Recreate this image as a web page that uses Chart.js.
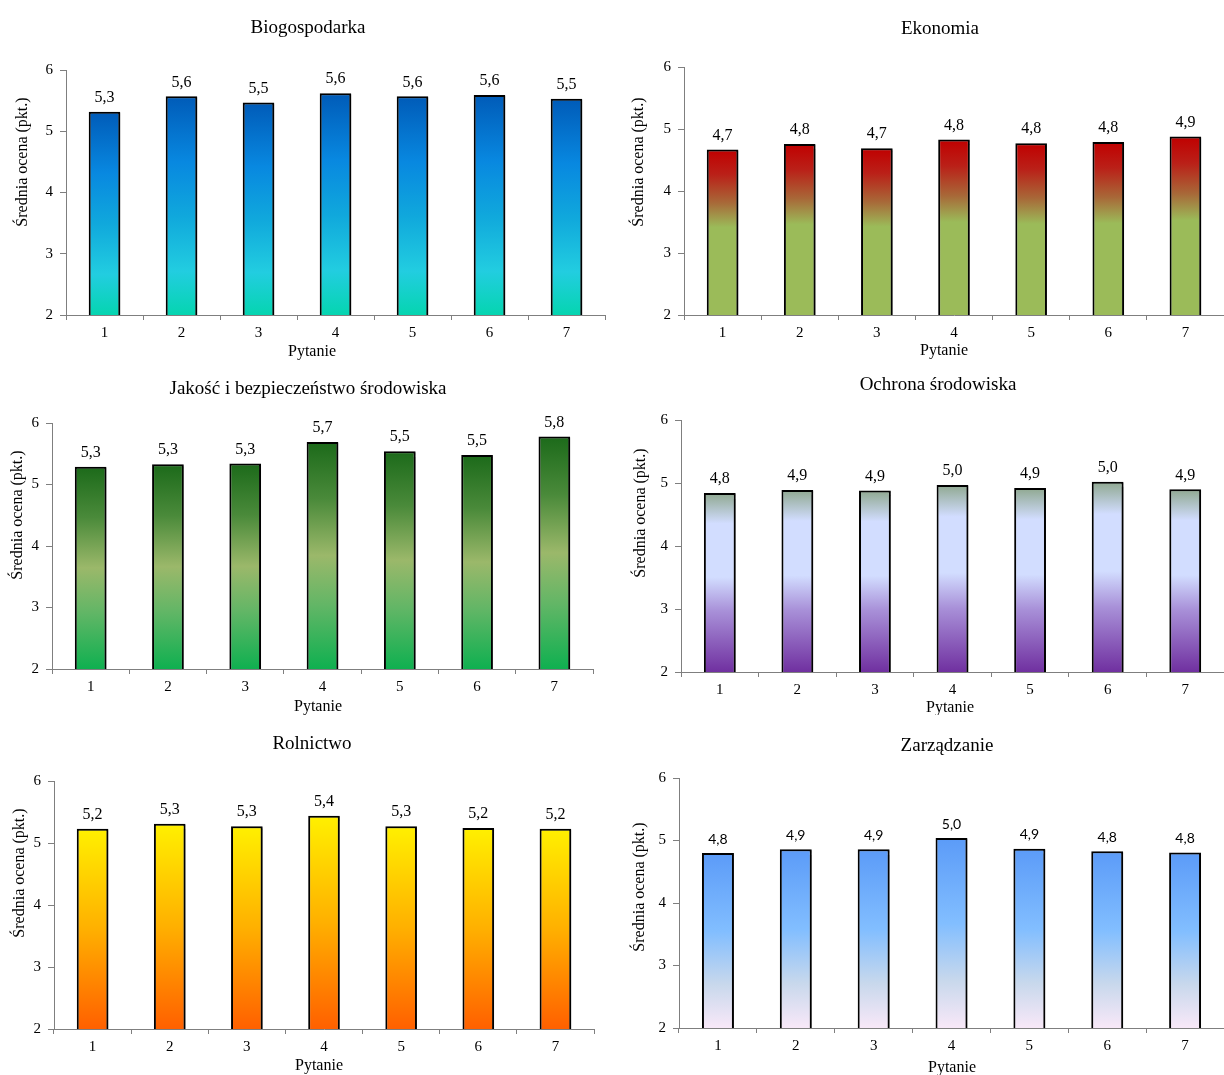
<!DOCTYPE html>
<html lang="pl">
<head>
<meta charset="utf-8">
<title>Średnia ocena wg dyscypliny</title>
<script src="https://cdn.jsdelivr.net/npm/chart.js@4.4.1/dist/chart.umd.min.js"></script>
<style>
    html, body { margin: 0; padding: 0; background: #ffffff; }
    #wrap { position: relative; width: 1224px; height: 1075px; overflow: hidden; }
    #wrap canvas { position: absolute; }
</style>
</head>
<body>
<div id="wrap">
    <canvas id="c1"></canvas>
    <canvas id="c2"></canvas>
    <canvas id="c3"></canvas>
    <canvas id="c4"></canvas>
    <canvas id="c5"></canvas>
    <canvas id="c6"></canvas>
</div>
<script>
// ---- dane ----
const pytania = ['1', '2', '3', '4', '5', '6', '7'];
const yTicks = [2, 3, 4, 5, 6];

const biogospodarka = [5.32, 5.57, 5.47, 5.62, 5.57, 5.59, 5.53];
const ekonomia      = [4.67, 4.76, 4.69, 4.83, 4.77, 4.79, 4.88];
const jakosc        = [5.29, 5.33, 5.34, 5.69, 5.54, 5.48, 5.78];
const ochrona       = [4.84, 4.89, 4.88, 4.97, 4.92, 5.02, 4.90];
const rolnictwo     = [5.23, 5.31, 5.27, 5.44, 5.27, 5.24, 5.23];
const zarzadzanie   = [4.80, 4.86, 4.86, 5.04, 4.87, 4.83, 4.81];

const tytuly = [
    'Biogospodarka', 'Ekonomia',
    'Jakość i bezpieczeństwo środowiska', 'Ochrona środowiska',
    'Rolnictwo', 'Zarządzanie'
];
const osY = 'Średnia ocena (pkt.)';
const osX = 'Pytanie';

// ---- wyglad ----
const SERIF = '"Liberation Serif", "Times New Roman", serif';
const SANS = 'Lato, "Liberation Sans", sans-serif';

// gradient slupka: [pozycja od gory, kolor]
const gradBio = [[0, '#005bb8'], [0.3, '#0888e0'], [0.55, '#10a8dc'], [0.8, '#22cde0'], [1, '#05d5b0']];
const gradEko = [[0, '#c00000'], [0.15, '#ba2018'], [0.32, '#a86838'], [0.47, '#9bbb59'], [1, '#9bbb59']];
const gradJak = [[0, '#1c6a1a'], [0.25, '#4a8a3a'], [0.5, '#9bb86a'], [0.72, '#62b666'], [1, '#0fb050']];
const gradOch = [[0, '#8fa890'], [0.17, '#d2ddff'], [0.47, '#d2ddff'], [0.66, '#a890d8'], [1, '#7030a0']];
const gradRol = [[0, '#fff000'], [0.5, '#ffb000'], [1, '#ff6000']];
const gradZar = [[0, '#5b9bf8'], [0.45, '#82beff'], [0.75, '#c8d8ec'], [1, '#f8e8f8']];

// polozenie paneli (px) - uklad strony
const panele = [
    { id: 'c1', dane: biogospodarka, grad: gradBio, left: 0,   top: 0,   w: 612, h: 360, axisX: 66, plotTop: 70, plotBottom: 315, right: 605, title: [308, 28], yTitle: [23, 162], xTitle: [312, 352], labelFont: SERIF, labelSize: 16 },
    { id: 'c2', dane: ekonomia,      grad: gradEko, left: 612, top: 0,   w: 612, h: 360, axisX: 72, plotTop: 67, plotBottom: 315, right: 612, title: [328, 29], yTitle: [27, 162], xTitle: [332, 351], labelFont: SERIF, labelSize: 16 },
    { id: 'c3', dane: jakosc,        grad: gradJak, left: 0,   top: 360, w: 612, h: 355, axisX: 52, plotTop: 63, plotBottom: 309, right: 593, title: [308, 29], yTitle: [18, 155], xTitle: [318, 347], labelFont: SERIF, labelSize: 16 },
    { id: 'c4', dane: ochrona,       grad: gradOch, left: 612, top: 360, w: 612, h: 355, axisX: 69, plotTop: 60, plotBottom: 312, right: 612, title: [326, 25], yTitle: [29, 153], xTitle: [338, 348], labelFont: SERIF, labelSize: 16 },
    { id: 'c5', dane: rolnictwo,     grad: gradRol, left: 0,   top: 715, w: 612, h: 360, axisX: 54, plotTop: 66, plotBottom: 314, right: 594, title: [312, 29], yTitle: [20, 158], xTitle: [319, 351], labelFont: SERIF, labelSize: 16 },
    { id: 'c6', dane: zarzadzanie,   grad: gradZar, left: 612, top: 715, w: 612, h: 360, axisX: 67, plotTop: 63, plotBottom: 313, right: 612, title: [335, 31], yTitle: [28, 172], xTitle: [340, 353], labelFont: SANS,  labelSize: 14 }
];

function barGradient(stops) {
    return function (context) {
        const chart = context.chart;
        const y = chart.scales.y;
        if (!chart.chartArea || !y || context.raw == null) {
            return stops[0][1];
        }
        const top = y.getPixelForValue(context.raw);
        const bottom = y.getPixelForValue(y.min);
        const g = chart.ctx.createLinearGradient(0, top, 0, bottom);
        stops.forEach(function (s) { g.addColorStop(s[0], s[1]); });
        return g;
    };
}

// tytuly, opisy osi, etykiety wartosci, cien slupkow
const dekoracje = {
    id: 'dekoracje',
    beforeDatasetsDraw: function (chart) {
        const ctx = chart.ctx;
        ctx.save();
        ctx.shadowColor = 'rgba(0, 0, 0, 0.35)';
        ctx.shadowOffsetX = 2;
        ctx.shadowOffsetY = 1;
        ctx.shadowBlur = 1;
    },
    afterDatasetsDraw: function (chart) {
        const ctx = chart.ctx;
        ctx.restore();
        const p = chart.options.plugins.dekoracje;
        const meta = chart.getDatasetMeta(0);
        const values = chart.data.datasets[0].data;

        ctx.save();
        ctx.fillStyle = '#000000';
        ctx.textAlign = 'center';
        ctx.textBaseline = 'middle';
        ctx.font = p.labelSize + 'px ' + p.labelFont;
        meta.data.forEach(function (bar, i) {
            ctx.fillText(values[i].toFixed(1).replace('.', ','), bar.x, bar.y - 14);
        });

        ctx.font = '19px ' + SERIF;
        ctx.fillText(p.title, p.titlePos[0], p.titlePos[1]);

        ctx.font = '16px ' + SERIF;
        ctx.fillText(osX, p.xTitle[0], p.xTitle[1]);

        ctx.translate(p.yTitle[0], p.yTitle[1]);
        ctx.rotate(-Math.PI / 2);
        ctx.fillText(osY, 0, 0);
        ctx.restore();
    }
};

panele.forEach(function (p, idx) {
    const canvas = document.getElementById(p.id);
    canvas.width = p.w;
    canvas.height = p.h;
    canvas.style.left = p.left + 'px';
    canvas.style.top = p.top + 'px';
    canvas.style.width = p.w + 'px';
    canvas.style.height = p.h + 'px';

    new Chart(canvas, {
        type: 'bar',
        data: {
            labels: pytania,
            datasets: [{
                label: tytuly[idx],
                data: p.dane,
                backgroundColor: barGradient(p.grad),
                borderColor: '#000000',
                borderWidth: 2,
                borderSkipped: false,
                barPercentage: 1,
                categoryPercentage: 0.41
            }]
        },
        options: {
            responsive: false,
            animation: false,
            devicePixelRatio: 1,
            layout: {
                padding: { top: p.plotTop, right: p.w - p.right, bottom: 0, left: 0 }
            },
            plugins: {
                legend: { display: false },
                tooltip: { enabled: false },
                title: { display: false },
                dekoracje: {
                    title: tytuly[idx],
                    titlePos: p.title,
                    xTitle: p.xTitle,
                    yTitle: p.yTitle,
                    labelFont: p.labelFont,
                    labelSize: p.labelSize
                }
            },
            scales: {
                x: {
                    afterFit: function (scale) { scale.height = p.h - p.plotBottom; },
                    grid: {
                        offset: true,
                        drawOnChartArea: false,
                        drawTicks: true,
                        tickLength: 5,
                        color: '#7f7f7f'
                    },
                    border: { display: true, color: '#7f7f7f', width: 1 },
                    ticks: {
                        color: '#000000',
                        padding: 4,
                        font: { family: SERIF, size: 15 }
                    }
                },
                y: {
                    min: yTicks[0],
                    max: yTicks[yTicks.length - 1],
                    afterFit: function (scale) { scale.width = p.axisX; },
                    afterBuildTicks: function (scale) {
                        scale.ticks = yTicks.map(function (v) { return { value: v }; });
                    },
                    grid: {
                        drawOnChartArea: false,
                        drawTicks: true,
                        tickLength: 6,
                        color: '#7f7f7f'
                    },
                    border: { display: true, color: '#7f7f7f', width: 1 },
                    ticks: {
                        color: '#000000',
                        padding: 7,
                        font: { family: SERIF, size: 15 }
                    }
                }
            }
        },
        plugins: [dekoracje]
    });
});
</script>
</body>
</html>
